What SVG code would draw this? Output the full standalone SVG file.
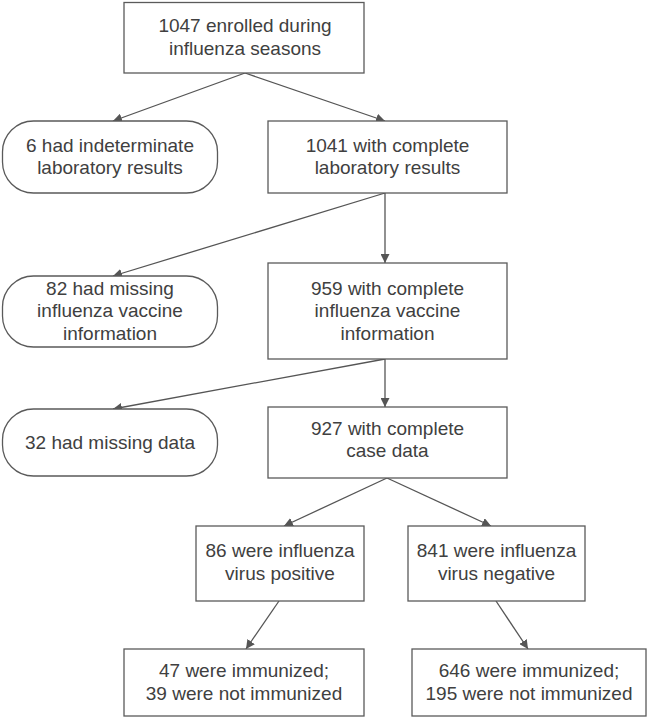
<svg xmlns="http://www.w3.org/2000/svg" width="649" height="720" viewBox="0 0 649 720">
<defs>
<style>
.box{fill:#fff;stroke:#5a5a5a;stroke-width:1.3}
.t{font-family:"Liberation Sans",Arial,sans-serif;font-size:19px;fill:#404040;text-anchor:middle}
.c{stroke:#555;stroke-width:1.3;fill:none;marker-end:url(#ah)}
</style>
<marker id="ah" viewBox="0 0 10 10" refX="10" refY="5" markerWidth="9" markerHeight="9" markerUnits="userSpaceOnUse" orient="auto">
<path d="M0,0 L10,5 L0,10 Z" fill="#555"/>
</marker>
</defs>
<rect width="649" height="720" fill="#fff"/>
<g id="connectors">
<line class="c" x1="245" y1="73" x2="113" y2="121"/>
<line class="c" x1="245" y1="73" x2="385" y2="121"/>
<line class="c" x1="385" y1="193" x2="113" y2="276"/>
<line class="c" x1="385" y1="193" x2="385" y2="263"/>
<line class="c" x1="385" y1="359" x2="113" y2="409"/>
<line class="c" x1="385" y1="359" x2="385" y2="407"/>
<line class="c" x1="387" y1="478" x2="284" y2="526"/>
<line class="c" x1="387" y1="478" x2="491" y2="526"/>
<line class="c" x1="279" y1="601" x2="246" y2="649"/>
<line class="c" x1="496" y1="601" x2="528" y2="649"/>
</g>
<g id="n1047">
<rect class="box" x="124" y="2.5" width="240" height="70.5"/>
<text class="t" x="245" y="32">1047 enrolled during</text>
<text class="t" x="245" y="55">influenza seasons</text>
</g>
<g id="n6">
<rect class="box" x="2.5" y="121" width="215" height="72" rx="31" ry="31"/>
<text class="t" x="110" y="152">6 had indeterminate</text>
<text class="t" x="110" y="174">laboratory results</text>
</g>
<g id="n1041">
<rect class="box" x="268" y="121" width="239" height="72"/>
<text class="t" x="387.5" y="152">1041 with complete</text>
<text class="t" x="387.5" y="174">laboratory results</text>
</g>
<g id="n82">
<rect class="box" x="2.5" y="276" width="215" height="71" rx="31" ry="31"/>
<text class="t" x="110" y="295">82 had missing</text>
<text class="t" x="110" y="317">influenza vaccine</text>
<text class="t" x="110" y="340">information</text>
</g>
<g id="n959">
<rect class="box" x="268" y="263" width="239" height="96"/>
<text class="t" x="387.5" y="295">959 with complete</text>
<text class="t" x="387.5" y="317">influenza vaccine</text>
<text class="t" x="387.5" y="340">information</text>
</g>
<g id="n32">
<rect class="box" x="2.5" y="409" width="215" height="67" rx="31" ry="31"/>
<text class="t" x="110" y="449">32 had missing data</text>
</g>
<g id="n927">
<rect class="box" x="268" y="407" width="239" height="71"/>
<text class="t" x="387.5" y="435">927 with complete</text>
<text class="t" x="387.5" y="457">case data</text>
</g>
<g id="n86">
<rect class="box" x="196" y="526" width="168" height="75"/>
<text class="t" x="280" y="557">86 were influenza</text>
<text class="t" x="280" y="580">virus positive</text>
</g>
<g id="n841">
<rect class="box" x="408" y="526" width="177" height="75"/>
<text class="t" x="496.5" y="557">841 were influenza</text>
<text class="t" x="496.5" y="580">virus negative</text>
</g>
<g id="n47">
<rect class="box" x="124" y="649" width="240" height="67"/>
<text class="t" x="244" y="677">47 were immunized;</text>
<text class="t" x="244" y="700">39 were not immunized</text>
</g>
<g id="n646">
<rect class="box" x="412" y="649" width="234" height="67"/>
<text class="t" x="529" y="677">646 were immunized;</text>
<text class="t" x="529" y="700">195 were not immunized</text>
</g>
</svg>
